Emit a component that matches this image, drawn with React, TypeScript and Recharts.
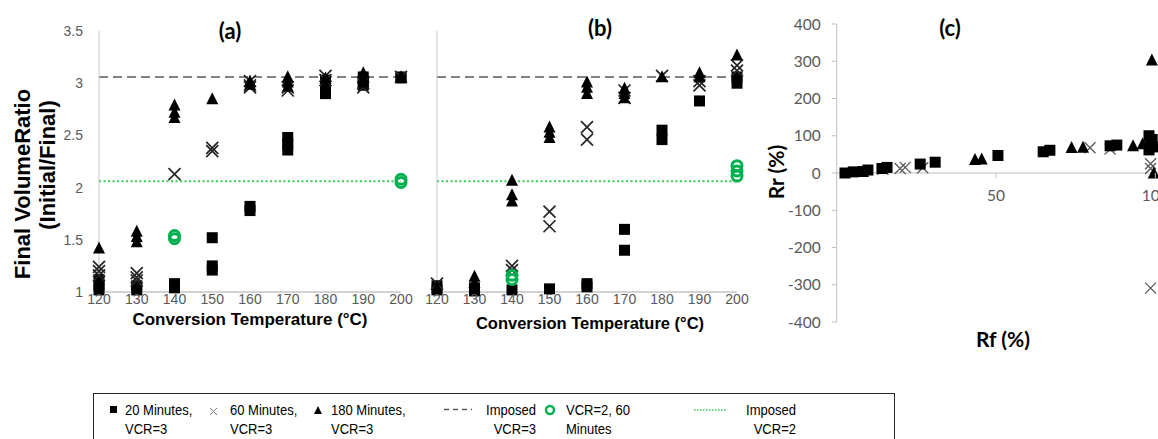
import React from "react";
import { ReferenceLine, Scatter, ScatterChart, XAxis, YAxis } from "recharts";

const tempTicks = [120, 130, 140, 150, 160, 170, 180, 190, 200];
const ratioTicks = [1, 1.5, 2, 2.5, 3, 3.5];
const imposedVcr3 = 3.06;
const imposedVcr2 = 2.06;

// panel (a): [conversion temperature, final volume ratio]
const a20min = [
  [120, 1.12], [120, 1.06], [120, 1.02], [130, 1.06], [130, 1.02], [140, 1.08], [140, 1.04],
  [150, 1.52], [150, 1.25], [150, 1.21], [160, 1.82], [160, 1.78], [170, 2.48], [170, 2.42],
  [170, 2.36], [180, 3.03], [180, 2.96], [180, 2.9], [190, 3.06], [190, 3.02], [190, 2.98],
  [200, 3.06], [200, 3.05],
];
const a60min = [
  [120, 1.24], [120, 1.2], [120, 1.16], [130, 1.18], [130, 1.14], [130, 1.11], [140, 2.13],
  [150, 2.38], [150, 2.35], [160, 3.02], [160, 2.98], [160, 2.96], [170, 2.96], [170, 2.93],
  [180, 3.07], [180, 3.03], [190, 3.0], [190, 2.96], [200, 3.06],
];
const a180min = [
  [120, 1.42], [130, 1.58], [130, 1.53], [130, 1.48], [140, 2.79], [140, 2.72], [140, 2.67],
  [150, 2.85], [160, 3.02], [160, 2.99], [170, 3.06], [170, 3.01], [170, 2.97], [180, 3.05],
  [190, 3.1], [190, 3.05], [190, 3.01], [200, 3.06],
];
const aVcr2 = [[140, 1.54], [140, 1.51], [200, 2.08], [200, 2.05]];

// panel (b)
const b20min = [
  [120, 1.06], [120, 1.02], [130, 1.04], [130, 1.01], [140, 1.02], [150, 1.03], [160, 1.08],
  [160, 1.05], [170, 1.6], [170, 1.4], [180, 2.55], [180, 2.46], [190, 2.83], [200, 3.06],
  [200, 3.0],
];
const b60min = [
  [120, 1.08], [140, 1.25], [140, 1.21], [150, 1.77], [150, 1.63], [160, 2.58], [160, 2.46],
  [170, 2.93], [170, 2.86], [180, 3.07], [190, 3.02], [190, 2.98], [200, 3.17], [200, 3.12],
];
const b180min = [
  [120, 1.04], [130, 1.15], [130, 1.09], [130, 1.05], [140, 2.07], [140, 1.93], [140, 1.87],
  [150, 2.58], [150, 2.53], [150, 2.48], [160, 3.01], [160, 2.96], [160, 2.9], [170, 2.95],
  [170, 2.9], [170, 2.86], [180, 3.06], [190, 3.1], [190, 3.06], [200, 3.27],
];
const bVcr2 = [[140, 1.16], [140, 1.12], [200, 2.21], [200, 2.16], [200, 2.11]];

// panel (c): [Rf %, Rr %]
const rfTicks = [50, 100, 150];
const rrTicks = [-400, -300, -200, -100, 0, 100, 200, 300, 400];
const c20min = [
  [2.6, 0], [5.2, 3], [8.3, 4], [9.8, 8], [14.2, 12], [15.8, 15], [26.2, 24], [30.9, 29],
  [50.6, 47], [64.8, 57], [66.9, 61], [85.8, 73], [87.9, 75], [98, 100], [99, 90], [98.5, 80],
  [99.5, 70], [98, 62],
];
const c60min = [
  [14.5, 10], [19.9, 12], [21.5, 15], [27, 14], [79.5, 68], [85.8, 64], [98.5, 25], [98.5, 12],
  [98.5, -309],
];
const c180min = [
  [43.4, 36], [45.5, 37], [73.7, 68], [77.3, 69], [93, 73], [96, 78], [98.9, 303], [99.5, 0],
  [98, 85],
];

const pts = (arr: number[][]) => arr.map(([x, y]) => ({ x, y }));

const ARIAL = "'Liberation Sans', Arial, sans-serif";
const CALIBRI = "Lato, 'Open Sans', sans-serif";
const GREEN = "#00b050";

const square = (s: number) => (p: any) => (
  <rect x={p.cx - s / 2} y={p.cy - s / 2} width={s} height={s} fill="#000" />
);
const triangle = (s: number) => (p: any) => (
  <polygon
    points={`${p.cx},${p.cy - s * 0.55} ${p.cx - s / 2},${p.cy + s * 0.45} ${p.cx + s / 2},${p.cy + s * 0.45}`}
    fill="#000"
  />
);
const cross = (s: number, color: string, w: number) => (p: any) => (
  <path
    d={`M${p.cx - s / 2},${p.cy - s / 2}L${p.cx + s / 2},${p.cy + s / 2}M${p.cx + s / 2},${p.cy - s / 2}L${p.cx - s / 2},${p.cy + s / 2}`}
    stroke={color}
    strokeWidth={w}
    fill="none"
  />
);
const ring = (p: any) => (
  <circle cx={p.cx} cy={p.cy} r={5} fill="none" stroke={GREEN} strokeWidth={3} />
);

const tempTick = { fill: "#595959", fontSize: 14, fontFamily: ARIAL };

function TempPanel(props: {
  left: number;
  width: number;
  yWidth: number;
  marginLeft: number;
  marginRight: number;
  showY: boolean;
  s20: number[][];
  s60: number[][];
  s180: number[][];
  vcr2: number[][];
}) {
  return (
    <div style={{ position: "absolute", left: props.left, top: 0 }}>
      <ScatterChart
        width={props.width}
        height={340}
        margin={{ top: 31, right: props.marginRight, bottom: 18, left: props.marginLeft }}
      >
        <XAxis
          type="number"
          dataKey="x"
          domain={[120, 200]}
          ticks={tempTicks}
          interval={0}
          height={30}
          axisLine={{ stroke: "#a6a6a6" }}
          tickLine={false}
          tickSize={1}
          tickMargin={1}
          tick={tempTick}
        />
        <YAxis
          type="number"
          dataKey="y"
          domain={[1, 3.5]}
          ticks={ratioTicks}
          interval={0}
          width={props.yWidth}
          axisLine={{ stroke: "#c8c8c8" }}
          tickLine={false}
          tickSize={6}
          tickMargin={10}
          tick={props.showY ? tempTick : false}
        />
        <ReferenceLine y={imposedVcr3} stroke="#595959" strokeWidth={1.5} strokeDasharray="9 5" />
        <ReferenceLine y={imposedVcr2} stroke="#33cc55" strokeWidth={2} strokeDasharray="2 2.5" />
        <Scatter data={pts(props.s20)} shape={square(11)} isAnimationActive={false} />
        <Scatter data={pts(props.s60)} shape={cross(12, "#262626", 1.7)} isAnimationActive={false} />
        <Scatter data={pts(props.s180)} shape={triangle(12)} isAnimationActive={false} />
        <Scatter data={pts(props.vcr2)} shape={ring} isAnimationActive={false} />
      </ScatterChart>
    </div>
  );
}

// panel (c) plot height, used to place the Rf ticks on the Rr = 0 line
const rrPlotH = 298;
const zeroFromBottom = (rrPlotH * (0 - rrTicks[0])) / (rrTicks[rrTicks.length - 1] - rrTicks[0]);

const RfTick = (p: any) => {
  const y0 = p.y - zeroFromBottom;
  return (
    <g>
      <line x1={p.x} x2={p.x} y1={y0} y2={y0 + 5} stroke="#bfbfbf" />
      <text
        x={p.x}
        y={y0 + 28}
        textAnchor="middle"
        fill="#595959"
        fontSize={15.5}
        fontFamily={CALIBRI}
      >
        {p.payload.value}
      </text>
    </g>
  );
};

function RatioPanel() {
  return (
    <div style={{ position: "absolute", left: 760, top: 0 }}>
      <ScatterChart width={600} height={360} margin={{ top: 24, right: 45.3, bottom: 8, left: 26.7 }}>
        <XAxis
          type="number"
          dataKey="x"
          domain={[0, 150]}
          ticks={rfTicks}
          interval={0}
          height={30}
          axisLine={false}
          tickLine={false}
          tickSize={0}
          tickMargin={0}
          tick={<RfTick />}
        />
        <YAxis
          type="number"
          dataKey="y"
          domain={[-400, 400]}
          ticks={rrTicks}
          interval={0}
          width={50}
          axisLine={{ stroke: "#bfbfbf" }}
          tickLine={{ stroke: "#bfbfbf" }}
          tickSize={5}
          tickMargin={11}
          tick={{ fill: "#595959", fontSize: 15.5, fontFamily: CALIBRI }}
        />
        <ReferenceLine y={0} stroke="#bfbfbf" />
        <Scatter data={pts(c60min)} shape={cross(11, "#595959", 1.3)} isAnimationActive={false} />
        <Scatter data={pts(c20min)} shape={square(11)} isAnimationActive={false} />
        <Scatter data={pts(c180min)} shape={triangle(12)} isAnimationActive={false} />
      </ScatterChart>
    </div>
  );
}

const legendText: React.CSSProperties = {
  position: "absolute",
  fontFamily: ARIAL,
  fontSize: 15.5,
  lineHeight: "19px",
  color: "#000",
  whiteSpace: "nowrap",
  transform: "scaleX(0.84)",
  transformOrigin: "left top",
};
const legendRight: React.CSSProperties = {
  ...legendText,
  textAlign: "right",
  transformOrigin: "right top",
};

function Legend() {
  return (
    <div
      style={{
        position: "absolute",
        left: 93,
        top: 393,
        width: 802,
        height: 70,
        border: "1px solid #262626",
        boxSizing: "border-box",
      }}
    >
      <svg width={800} height={40} style={{ position: "absolute", left: 0, top: 0 }}>
        <rect x={16} y={12} width={7} height={7} fill="#000" />
        <path d="M116,14L123,21M123,14L116,21" stroke="#7f7f7f" strokeWidth={1} />
        <polygon points="224,12 220,20 228,20" fill="#000" />
        <line x1={350} x2={378} y1={15.5} y2={15.5} stroke="#595959" strokeWidth={1.3} strokeDasharray="5 4" />
        <circle cx={456} cy={16} r={4} fill="none" stroke={GREEN} strokeWidth={2.5} />
        <line x1={600} x2={633} y1={16} y2={16} stroke="#33cc55" strokeWidth={1.5} strokeDasharray="1.5 1.5" />
      </svg>
      <div style={{ ...legendText, left: 31, top: 6 }}>
        20 Minutes,
        <br />
        VCR=3
      </div>
      <div style={{ ...legendText, left: 136, top: 6 }}>
        60 Minutes,
        <br />
        VCR=3
      </div>
      <div style={{ ...legendText, left: 237, top: 6 }}>
        180 Minutes,
        <br />
        VCR=3
      </div>
      <div style={{ ...legendRight, left: 362, top: 6, width: 80 }}>
        Imposed
        <br />
        VCR=3
      </div>
      <div style={{ ...legendText, left: 472, top: 6 }}>
        VCR=2, 60
        <br />
        Minutes
      </div>
      <div style={{ ...legendRight, left: 622, top: 6, width: 80 }}>
        Imposed
        <br />
        VCR=2
      </div>
    </div>
  );
}

export default function App() {
  const title = { fontFamily: CALIBRI, fontWeight: 700, fill: "#000" } as const;
  const arialBold = { fontFamily: ARIAL, fontWeight: 700, fill: "#000" } as const;
  return (
    <div
      style={{
        position: "fixed",
        left: 0,
        top: 0,
        width: 1158,
        height: 439,
        overflow: "hidden",
        background: "#fff",
      }}
    >
      <TempPanel
        left={0}
        width={430}
        yWidth={40}
        marginLeft={59}
        marginRight={29}
        showY
        s20={a20min}
        s60={a60min}
        s180={a180min}
        vcr2={aVcr2}
      />
      <TempPanel
        left={400}
        width={360}
        yWidth={10}
        marginLeft={27}
        marginRight={23}
        showY={false}
        s20={b20min}
        s60={b60min}
        s180={b180min}
        vcr2={bVcr2}
      />
      <RatioPanel />
      <svg
        width={1158}
        height={439}
        style={{ position: "absolute", left: 0, top: 0, pointerEvents: "none" }}
      >
        <text x={230} y={30} textAnchor="middle" dominantBaseline="central" fontSize={22} {...title}>(a)</text>
        <text x={600} y={27} textAnchor="middle" dominantBaseline="central" fontSize={22} {...title}>(b)</text>
        <text x={950} y={27} textAnchor="middle" dominantBaseline="central" fontSize={22} {...title}>(c)</text>
        <text transform="translate(22,184) rotate(-90)" textAnchor="middle" dominantBaseline="central" fontSize={22} {...arialBold}>
          Final VolumeRatio
        </text>
        <text transform="translate(47,165) rotate(-90)" textAnchor="middle" dominantBaseline="central" fontSize={22} {...arialBold}>
          (Initial/Final)
        </text>
        <text x={250} y={319} textAnchor="middle" dominantBaseline="central" fontSize={17} {...arialBold}>
          Conversion Temperature (°C)
        </text>
        <text x={590} y={323} textAnchor="middle" dominantBaseline="central" fontSize={16.5} {...arialBold}>
          Conversion Temperature (°C)
        </text>
        <text x={1003} y={338} textAnchor="middle" dominantBaseline="central" fontSize={21} {...title}>Rf (%)</text>
        <text transform="translate(775,172) rotate(-90)" textAnchor="middle" dominantBaseline="central" fontSize={21} {...title}>
          Rr (%)
        </text>
      </svg>
      <Legend />
    </div>
  );
}
